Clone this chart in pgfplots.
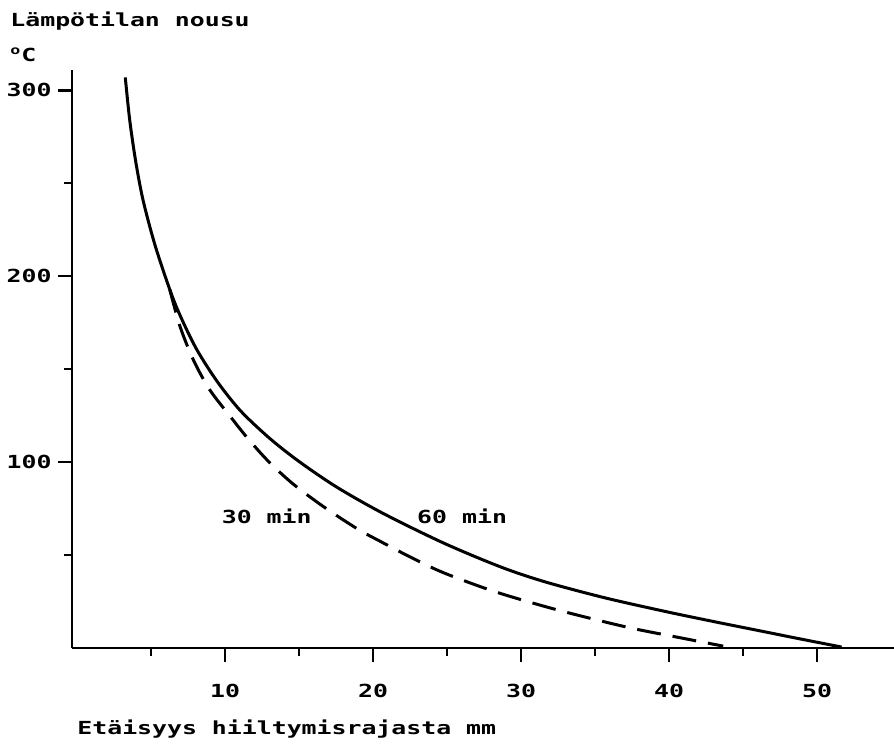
\documentclass[border=0pt]{standalone}
\usepackage{fontspec}
\setmainfont{DejaVu Sans Mono}[FakeStretch=1.38]
\usepackage{pgfplots}
\pgfplotsset{compat=1.18}
\begin{document}
\fontsize{9}{11}\selectfont\bfseries
\begin{tikzpicture}
\path[use as bounding box] (0,0) rectangle (447pt,373.5pt);
\begin{axis}[
  at={(36pt,49.5pt)}, anchor=south west,
  scale only axis, width=411pt, height=289pt,
  xmin=-0.34, xmax=55.2, ymin=0, ymax=311,
  axis lines*=left,
  axis line style={line width=1.2pt},
  xtick={10,20,30,40,50},
  minor xtick={5,15,25,35,45},
  ytick={100,200,300},
  minor ytick={50,150,250},
  tick align=outside,
  major tick length=7pt, minor tick length=4pt,
  tick style={line width=1.1pt, black},
  /pgf/number format/assume math mode=true,
  ticklabel style={font=\fontsize{9}{11}\selectfont\bfseries},
  xticklabel style={anchor=north, yshift=-8pt},
  yticklabel style={anchor=east, xshift=0pt},
  clip=false]
\addplot[black, line width=1.5pt, smooth] coordinates {
(3.26,307) (3.56,284) (3.96,262) (4.46,241) (5.26,217) (6.26,193) (6.96,179)
(8.06,161) (9.46,143.5) (11.06,127.5) (13.06,112.5) (15.06,100) (17.56,86.5)
(20.66,72.5) (24.76,56.5) (28.66,43.5) (31.66,35.5) (35.66,27) (39.66,19.8)
(42.66,14.8) (45.66,10) (48.66,5.2) (51.66,0.5)
};
\addplot[black, line width=1.5pt, smooth, dash pattern=on 12pt off 6pt] coordinates {
(6.26,193) (6.96,173) (7.86,155) (8.96,139) (10.36,124.5) (11.46,113.5)
(12.86,101) (14.56,88.5) (16.66,76) (18.96,64) (20.46,57.5) (22.5,49)
(24.76,40.5) (28.16,30.5) (31.76,22) (34.66,16) (37.56,10.5) (40.76,5.5)
(43.66,1)
};
\node[anchor=west, inner sep=0pt] at (axis cs:9.76,71) {30 min};
\node[anchor=west, inner sep=0pt] at (axis cs:22.96,71) {60 min};
\end{axis}
\node[anchor=base west, inner sep=0pt] at (5pt,360pt) {Lämpötilan nousu};
\node[anchor=base west, inner sep=0pt] at (5pt,342.5pt) {\textsuperscript{o}C};
\node[anchor=base west, inner sep=0pt] at (38.5pt,6pt) {Etäisyys hiiltymisrajasta mm};
\end{tikzpicture}
\end{document}
